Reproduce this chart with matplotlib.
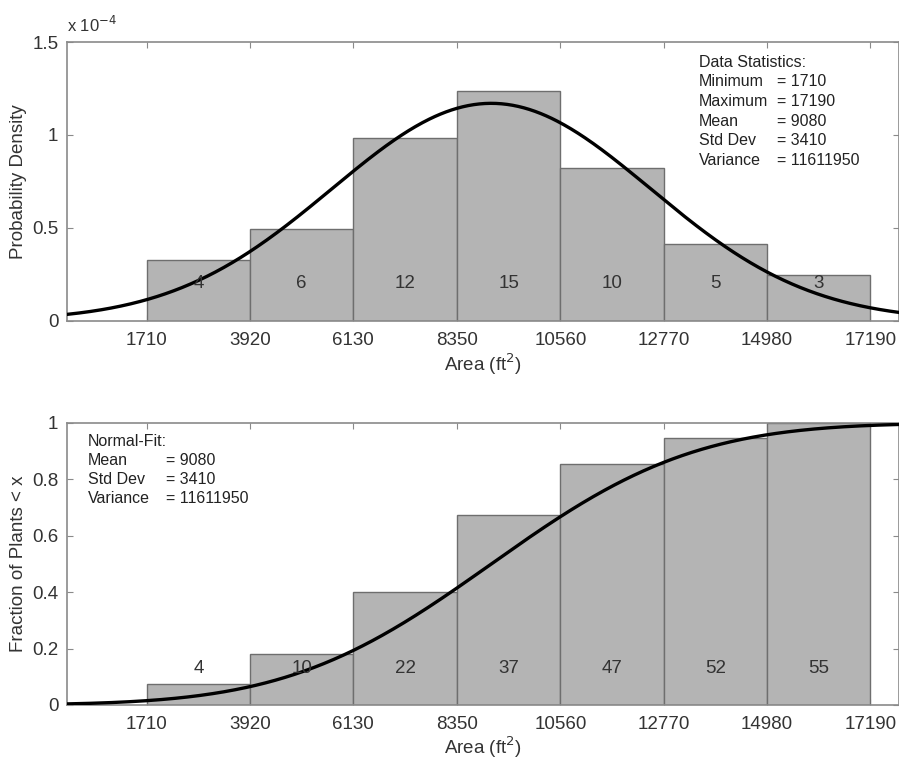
import math
import numpy as np
import matplotlib
matplotlib.use("Agg")
import matplotlib.pyplot as plt

plt.rcParams['font.family'] = ['Liberation Sans', 'DejaVu Sans']

# Histogram of plant areas
bin_edges = [1710, 3920, 6130, 8350, 10560, 12770, 14980, 17190]
counts = [4, 6, 12, 15, 10, 5, 3]
fit_mean = 9080
fit_std = 3410
stat_lines = ["Data Statistics:", "Minimum", "Maximum", "Mean", "Std Dev", "Variance"]
stat_values = ["", "= 1710", "= 17190", "= 9080", "= 3410", "= 11611950"]
fit_lines = ["Normal-Fit:", "Mean", "Std Dev", "Variance"]
fit_values = ["", "= 9080", "= 3410", "= 11611950"]

edges = np.array(bin_edges, dtype=float)
widths = np.diff(edges)
cnt = np.array(counts, dtype=float)
total = cnt.sum()
density = cnt / (total * widths)
cum_counts = np.cumsum(cnt)
cum_frac = cum_counts / total

x = np.linspace(0, 17800, 600)
pdf = np.exp(-0.5 * ((x - fit_mean) / fit_std) ** 2) / (fit_std * math.sqrt(2 * math.pi))
cdf = 0.5 * (1 + np.vectorize(math.erf)((x - fit_mean) / (fit_std * math.sqrt(2))))

bar_face = '#b4b4b4'
bar_edge = '#6e6e6e'
spine_c = '#8a8a8a'
text_c = '#333333'
tick_fs = 13.5
note_fs = 11.5

fig = plt.figure(figsize=(8.99, 7.61), dpi=100)
ax1 = fig.add_axes([0.0742, 0.5786, 0.9258, 0.3662])
ax2 = fig.add_axes([0.0742, 0.0736, 0.9258, 0.3706])


def style(ax):
    for s in ax.spines.values():
        s.set_color(spine_c)
        s.set_linewidth(1.2)
    ax.tick_params(direction='in', length=4, color=spine_c, labelcolor=text_c,
                   labelsize=tick_fs, top=True, right=True)
    ax.tick_params(axis='x', pad=8)
    ax.tick_params(axis='y', pad=6)
    ax.set_xlim(0, 17800)
    ax.set_xticks(bin_edges)
    ax.set_xticklabels([str(v) for v in bin_edges])


# Top: probability density
ax1.bar(edges[:-1], density, width=widths, align='edge', color=bar_face,
        edgecolor=bar_edge, linewidth=1.0, zorder=2)
ax1.plot(x, pdf, color='black', lw=2.4, zorder=3)
for left, w, c in zip(edges[:-1], widths, counts):
    ax1.text(left + w / 2, 0.2e-4, str(c), ha='center', va='center',
             fontsize=tick_fs, color=text_c, zorder=4)
ax1.set_ylim(0, 1.5e-4)
ax1.set_yticks([0, 0.5e-4, 1e-4, 1.5e-4])
ax1.set_yticklabels(['0', '0.5', '1', '1.5'])
style(ax1)
ax1.text(0.0, 1.025, r'x 10$^{-4}$', transform=ax1.transAxes, fontsize=12,
         color=text_c, ha='left', va='bottom')
ax1.set_ylabel('Probability Density', fontsize=tick_fs, color=text_c, labelpad=4)
ax1.set_xlabel('Area (ft$^2$)', fontsize=tick_fs, color=text_c, labelpad=2)

for i, (lab, val) in enumerate(zip(stat_lines, stat_values)):
    yy = 0.928 - i * 0.0707
    ax1.text(0.760, yy, lab, transform=ax1.transAxes, fontsize=note_fs,
             color='#222222', va='center', ha='left')
    if val:
        ax1.text(0.853, yy, val, transform=ax1.transAxes, fontsize=note_fs,
                 color='#222222', va='center', ha='left')

# Bottom: cumulative fraction
ax2.bar(edges[:-1], cum_frac, width=widths, align='edge', color=bar_face,
        edgecolor=bar_edge, linewidth=1.0, zorder=2)
ax2.plot(x, cdf, color='black', lw=2.4, zorder=3)
for left, w, c in zip(edges[:-1], widths, cum_counts.astype(int)):
    ax2.text(left + w / 2, 0.13, str(c), ha='center', va='center',
             fontsize=tick_fs, color=text_c, zorder=4)
ax2.set_ylim(0, 1)
ax2.set_yticks([0, 0.2, 0.4, 0.6, 0.8, 1.0])
ax2.set_yticklabels(['0', '0.2', '0.4', '0.6', '0.8', '1'])
style(ax2)
ax2.set_ylabel('Fraction of Plants < x', fontsize=tick_fs, color=text_c, labelpad=4)
ax2.set_xlabel('Area (ft$^2$)', fontsize=tick_fs, color=text_c, labelpad=1)

for i, (lab, val) in enumerate(zip(fit_lines, fit_values)):
    yy = 0.933 - i * 0.067
    ax2.text(0.0256, yy, lab, transform=ax2.transAxes, fontsize=note_fs,
             color='#222222', va='center', ha='left')
    if val:
        ax2.text(0.119, yy, val, transform=ax2.transAxes, fontsize=note_fs,
                 color='#222222', va='center', ha='left')

fig.savefig('out.png', dpi=100)
